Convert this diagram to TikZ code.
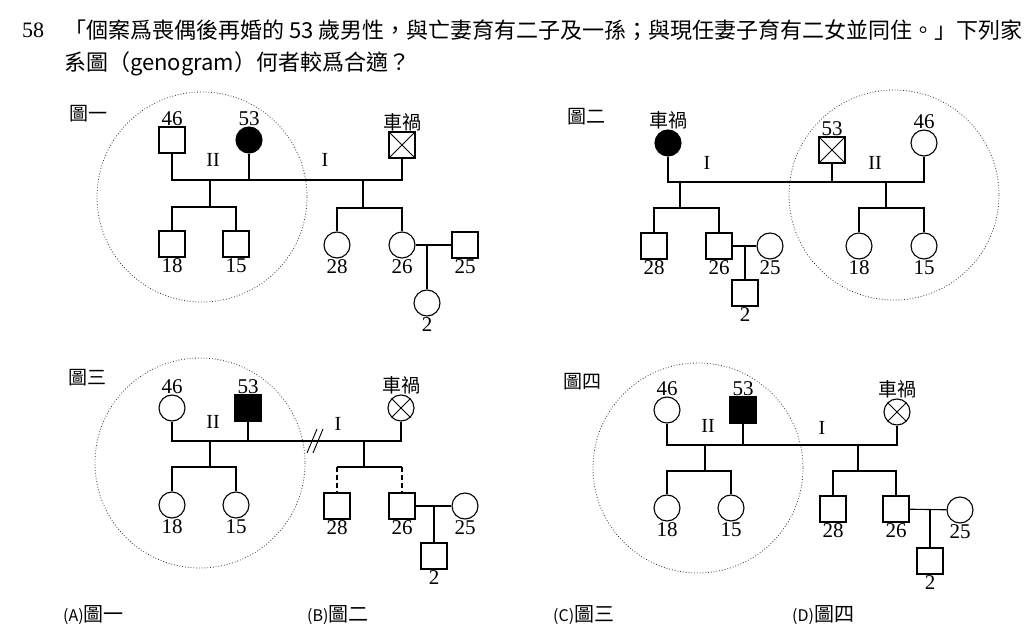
\documentclass[tikz,border=0pt]{standalone}
\usepackage{fontspec}
\setmainfont{Liberation Serif}
\newfontfamily\cjk{Noto Sans CJK TC}
\usetikzlibrary{positioning}

\tikzset{
  sq/.style={draw, line width=1.1pt, minimum size=26pt, inner sep=0pt},
  ci/.style={draw, line width=1.1pt, circle, minimum size=26pt, inner sep=0pt},
  dead/.style={path picture={\draw[line width=0.9pt]
      (path picture bounding box.north west) -- (path picture bounding box.south east)
      (path picture bounding box.north east) -- (path picture bounding box.south west);}},
  lab/.style={font=\fontsize{21}{21}\selectfont, inner sep=0.5pt},
  ttl/.style={font=\fontsize{19}{19}\selectfont\cjk, inner sep=0pt},
  gen/.style={font=\fontsize{20}{20}\selectfont, inner sep=0pt},
  tie/.style={line width=1.1pt},
  ring/.style={dotted, line width=0.8pt, black!80}
}

\begin{document}
\begin{tikzpicture}[x=1pt, y=-1pt]
  \useasboundingbox (0,0) rectangle (1029,644);
  % question text
  \node[gen, anchor=west] (q58) at (22,30) {\fontsize{22}{22}\selectfont 58};
  \node[anchor=west, inner sep=0pt, font=\fontsize{22}{22}\selectfont\cjk] (qa) at (64,30)
    {「個案爲喪偶後再婚的 53 歲男性，與亡妻育有二子及一孫；與現任妻子育有二女並同住。」下列家};
  \node[anchor=west, inner sep=0pt, font=\fontsize{22}{22}\selectfont\cjk] (qb) at (64,64)
    {系圖（genogram）何者較爲合適？};

  % ---- figure 1
  \node[ttl] (f1) at (88,114) {圖一};
  \draw[ring] (202,197) circle (105);
  \node[sq, label={[lab]above:46}] (a46) at (172,140) {};
  \node[ci, fill=black, label={[lab]above:53}] (a53) at (249,140) {};
  \node[sq, dead, label={[lab, font=\fontsize{19}{19}\selectfont\cjk]above:車禍}] (acar) at (402,145) {};
  \node[gen] (a2n) at (213,160) {II};
  \node[gen] (a1n) at (325,160) {I};
  \coordinate (aj2) at (210,180);
  \coordinate (aj1) at (363,180);
  \draw[tie] (a46) |- (aj2) -- (aj1) -| (acar);
  \draw[tie] (a53) -- (a53 |- aj2);
  \node[sq, label={[lab]below:18}] (a18) at (172,244) {};
  \node[sq, label={[lab]below:15}] (a15) at (236,244) {};
  \coordinate (ab2) at (210,207);
  \draw[tie] (aj2) -- (ab2);
  \draw[tie] (a18) |- (ab2) -| (a15);
  \node[ci, label={[lab]below:28}] (a28) at (337,245) {};
  \node[ci, label={[lab]below:26}] (a26) at (402,245) {};
  \coordinate (ab1) at (363,208);
  \draw[tie] (aj1) -- (ab1);
  \draw[tie] (a28) |- (ab1) -| (a26);
  \node[sq, label={[lab]below:25}] (a25) at (465,245) {};
  \node[ci, label={[lab]below:2}] (ag2) at (427,303) {};
  \draw[tie] (a26) -- (a25);
  \draw[tie] (ag2 |- a26) -- (ag2);

  % ---- figure 2
  \node[ttl] (f2) at (586,117) {圖二};
  \draw[ring] (894,195) circle (105);
  \node[ci, fill=black, label={[lab, font=\fontsize{19}{19}\selectfont\cjk]above:車禍}] (bcar) at (668,143) {};
  \node[sq, dead, label={[lab]above:53}] (b53) at (832,150) {};
  \node[ci, label={[lab]above:46}] (b46) at (924,143) {};
  \node[gen] (b1n) at (707,163) {I};
  \node[gen] (b2n) at (875,163) {II};
  \coordinate (bj1) at (680,182);
  \coordinate (bj2) at (886,182);
  \draw[tie] (bcar) |- (bj1) -- (bj2) -| (b46);
  \draw[tie] (b53) -- (b53 |- bj1);
  \node[sq, label={[lab]below:28}] (b28) at (654,246) {};
  \node[sq, label={[lab]below:26}] (b26) at (719,246) {};
  \coordinate (bb1) at (680,208);
  \draw[tie] (bj1) -- (bb1);
  \draw[tie] (b28) |- (bb1) -| (b26);
  \node[ci, label={[lab]below:25}] (b25) at (770,246) {};
  \node[sq, label={[lab]below:2}] (bg2) at (745,293) {};
  \draw[tie] (b26) -- (b25);
  \draw[tie] (bg2 |- b26) -- (bg2);
  \node[ci, label={[lab]below:18}] (b18) at (859,246) {};
  \node[ci, label={[lab]below:15}] (b15) at (924,246) {};
  \coordinate (bb2) at (886,208);
  \draw[tie] (bj2) -- (bb2);
  \draw[tie] (b18) |- (bb2) -| (b15);

  % ---- figure 3
  \node[ttl] (f3) at (87,378) {圖三};
  \draw[ring] (200,463) circle (105);
  \node[ci, label={[lab]above:46}] (c46) at (172,408) {};
  \node[sq, fill=black, label={[lab]above:53}] (c53) at (248,408) {};
  \node[ci, dead, label={[lab, font=\fontsize{19}{19}\selectfont\cjk]above:車禍}] (ccar) at (401,408) {};
  \node[gen] (c2n) at (213,422) {II};
  \node[gen] (c1n) at (338,424) {I};
  \coordinate (cj2) at (210,441);
  \coordinate (cj1) at (364,441);
  \draw[tie] (c46) |- (cj2) -- (cj1) -| (ccar);
  \draw[tie] (c53) -- (c53 |- cj2);
  \draw[line width=0.9pt] (307,453) -- (317,429) (313,453) -- (323,429);
  \node[ci, label={[lab]below:18}] (c18) at (172,505) {};
  \node[ci, label={[lab]below:15}] (c15) at (236,505) {};
  \coordinate (cb2) at (210,467);
  \draw[tie] (cj2) -- (cb2);
  \draw[tie] (c18) |- (cb2) -| (c15);
  \node[sq, label={[lab]below:28}] (c28) at (337,506) {};
  \node[sq, label={[lab]below:26}] (c26) at (402,506) {};
  \coordinate (cb1) at (364,467);
  \draw[tie] (cj1) -- (cb1);
  \draw[tie] (c28 |- cb1) -- (c26 |- cb1);
  \draw[tie, dash pattern=on 5pt off 3pt] (c28 |- cb1) -- (c28);
  \draw[tie, dash pattern=on 5pt off 3pt] (c26 |- cb1) -- (c26);
  \node[ci, label={[lab]below:25}] (c25) at (465,506) {};
  \node[sq, label={[lab]below:2}] (cg2) at (434,556) {};
  \draw[tie] (c26) -- (c25);
  \draw[tie] (cg2 |- c26) -- (cg2);

  % ---- figure 4
  \node[ttl] (f4) at (582,382) {圖四};
  \draw[ring] (698,468) circle (105);
  \node[ci, label={[lab]above:46}] (d46) at (667,410) {};
  \node[sq, fill=black, label={[lab]above:53}] (d53) at (743,410) {};
  \node[ci, dead, label={[lab, font=\fontsize{19}{19}\selectfont\cjk]above:車禍}] (dcar) at (897,412) {};
  \node[gen] (d2n) at (708,426) {II};
  \node[gen] (d1n) at (822,428) {I};
  \coordinate (dj2) at (705,445);
  \coordinate (dj1) at (858,445);
  \draw[tie] (d46) |- (dj2) -- (dj1) -| (dcar);
  \draw[tie] (d53) -- (d53 |- dj2);
  \node[ci, label={[lab]below:18}] (d18) at (667,508) {};
  \node[ci, label={[lab]below:15}] (d15) at (731,508) {};
  \coordinate (db2) at (705,471);
  \draw[tie] (dj2) -- (db2);
  \draw[tie] (d18) |- (db2) -| (d15);
  \node[sq, label={[lab]below:28}] (d28) at (833,509) {};
  \node[sq, label={[lab]below:26}] (d26) at (896,509) {};
  \coordinate (db1) at (858,471);
  \draw[tie] (dj1) -- (db1);
  \draw[tie] (d28) |- (db1) -| (d26);
  \node[ci, label={[lab]below:25}] (d25) at (960,510) {};
  \node[sq, label={[lab]below:2}] (dg2) at (930,561) {};
  \draw[tie] (d26) -- (d25);
  \draw[tie] (dg2 |- d26) -- (dg2);

  % ---- answer choices
  \node[ttl, anchor=west] (optA) at (63,615) {\fontsize{16}{16}\selectfont (A)\fontsize{20}{20}\selectfont 圖一};
  \node[ttl, anchor=west] (optB) at (307,615) {\fontsize{16}{16}\selectfont (B)\fontsize{20}{20}\selectfont 圖二};
  \node[ttl, anchor=west] (optC) at (553,615) {\fontsize{16}{16}\selectfont (C)\fontsize{20}{20}\selectfont 圖三};
  \node[ttl, anchor=west] (optD) at (792,615) {\fontsize{16}{16}\selectfont (D)\fontsize{20}{20}\selectfont 圖四};
\end{tikzpicture}
\end{document}
